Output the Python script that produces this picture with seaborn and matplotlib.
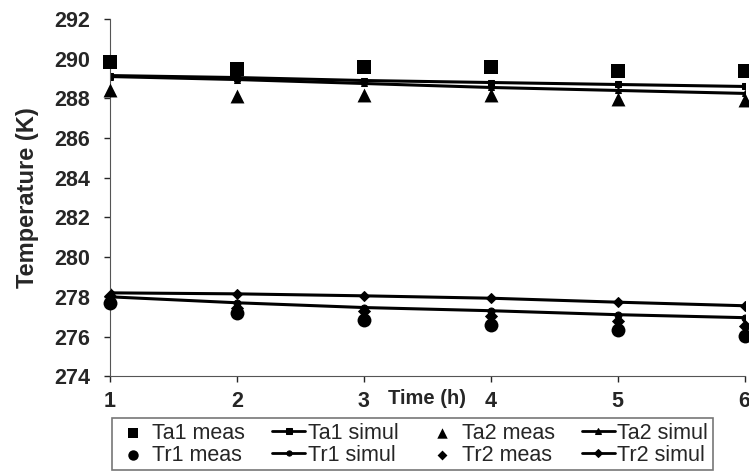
import numpy as np
import pandas as pd
import matplotlib
matplotlib.use("Agg")
import matplotlib.pyplot as plt
import seaborn as sns

# values
time_h = [1, 2, 3, 4, 5, 6]
ta1_meas = [289.83, 289.5, 289.6, 289.6, 289.4, 289.4]
ta1_simul = [289.15, 289.05, 288.9, 288.8, 288.7, 288.6]
ta2_meas = [288.42, 288.1, 288.17, 288.17, 287.95, 287.9]
ta2_simul = [289.1, 288.95, 288.75, 288.55, 288.4, 288.25]
tr1_meas = [277.7, 277.16, 276.82, 276.6, 276.32, 276.05]
tr1_simul = [278.0, 277.7, 277.46, 277.3, 277.1, 276.95]
tr2_meas = [278.05, 277.45, 277.3, 277.05, 276.8, 276.55]
tr2_simul = [278.2, 278.15, 278.05, 277.93, 277.73, 277.55]

sns.set_style("ticks")
plt.rcParams['font.family'] = ['Liberation Sans', 'DejaVu Sans']

fig, ax = plt.subplots(figsize=(7.49, 4.75), dpi=100)
fig.subplots_adjust(left=0.147, right=0.994, top=0.96, bottom=0.208)

meas = {'Ta1 meas': (ta1_meas, 's', 100), 'Tr1 meas': (tr1_meas, 'o', 100),
        'Ta2 meas': (ta2_meas, '^', 100), 'Tr2 meas': (tr2_meas, 'D', 45)}
simul = {'Ta1 simul': (ta1_simul, 's'), 'Tr1 simul': (tr1_simul, 'o'),
         'Ta2 simul': (ta2_simul, '^'), 'Tr2 simul': (tr2_simul, 'D')}

for name, (vals, mk) in simul.items():
    sns.lineplot(x=time_h, y=vals, ax=ax, color='black', lw=2.2, marker=mk,
                 markersize=5, markeredgecolor='black', label=name)
for name, (vals, mk, s) in meas.items():
    sns.scatterplot(x=time_h, y=vals, ax=ax, color='black', marker=mk, s=s,
                    edgecolor='black', linewidth=0, label=name, zorder=5, clip_on=False)

h, l = ax.get_legend_handles_labels()
lookup = dict(zip(l, h))
order = ['Ta1 meas', 'Tr1 meas', 'Ta1 simul', 'Tr1 simul',
         'Ta2 meas', 'Tr2 meas', 'Ta2 simul', 'Tr2 simul']
leg = ax.legend([lookup[k] for k in order], order, ncol=4, loc='upper left',
                bbox_to_anchor=(0.003, -0.118), frameon=True, fancybox=False,
                edgecolor='#555555', fontsize=15.5, handlelength=1.55, handletextpad=0.12,
                columnspacing=1.25, borderpad=0.2, labelspacing=0.05, markerscale=0.75,
                borderaxespad=0)
leg.get_frame().set_linewidth(1.2)
for lh in leg.get_lines():
    lh.set_linewidth(2)

ax.set_xlim(1, 6)
ax.set_ylim(274, 292)
ax.set_yticks(np.arange(274, 293, 2))
ax.set_xticks(time_h)
sns.despine(ax=ax)
ax.tick_params(labelsize=15.5, direction='out', length=4.5, width=1)
ax.tick_params(axis='y', pad=10)
ax.tick_params(axis='x', pad=6)
for t in ax.get_xticklabels() + ax.get_yticklabels():
    t.set_fontweight('bold')
ax.set_ylabel('Temperature (K)', fontsize=17, fontweight='bold')
ax.yaxis.set_label_coords(-0.112, 0.5)
ax.text(3.5, -0.035, 'Time (h)', transform=ax.get_xaxis_transform(),
        fontsize=14.5, fontweight='bold', ha='center', va='top')
for sp in ax.spines.values():
    sp.set_color('#555555')

fig.savefig('out.png', dpi=100)
